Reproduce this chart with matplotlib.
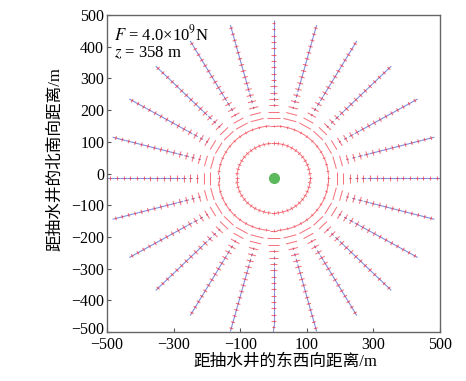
import numpy as np
import matplotlib
matplotlib.use('Agg')
import matplotlib.pyplot as plt
from matplotlib.collections import LineCollection
from matplotlib.transforms import ScaledTranslation

plt.rcParams['font.family'] = ['Liberation Serif', 'Noto Sans CJK SC']
plt.rcParams['mathtext.fontset'] = 'stix'

# 抽水井位置
well_x, well_y = 0, -15

# 射线方向 (度)
ray_angles = [0, 15, 30, 45, 60, 75, 90, 105, 120, 135, 150, 165,
              180, 195, 210, 225, 240, 255, 270, 285, 300, 315, 330, 345]
# 射线上的点半径及对应的切向(红)、径向(蓝)线段长度
ray_r = [190, 210, 230, 250, 270, 290, 310, 330, 350, 370, 390, 410, 430, 450, 470, 490]
red_len = [40, 34, 29, 25, 22, 20, 18, 17, 16, 15, 14, 14, 13, 13, 12, 12]
blue_len = [0, 0, 6, 10, 14, 17, 20, 20, 20, 20, 20, 20, 20, 20, 20, 20]

# 近井两个圆环
ring_r = [110, 165]
ring_tick = [12, 9]
ring_step = [7.5, 7.5]

red_c = '#f03a48'
blue_c = '#5566d4'

fig = plt.figure(figsize=(4.66, 3.81), dpi=100)
ax = fig.add_axes([107/466, 1-332/381, 333/466, 317/381])

red_segs, blue_segs, tick_segs = [], [], []
for a in ray_angles:
    t = np.deg2rad(a)
    ur = np.array([np.cos(t), np.sin(t)])
    ut = np.array([-np.sin(t), np.cos(t)])
    for r, lt, lr in zip(ray_r, red_len, blue_len):
        p = np.array([well_x, well_y]) + r * ur
        red_segs.append([p - ut * lt / 2, p + ut * lt / 2])
        if lr > 0:
            blue_segs.append([p - ur * lr / 2, p + ur * lr / 2])
            tick_segs.append([p - ur * 3, p + ur * 3])

for r, tk, st in zip(ring_r, ring_tick, ring_step):
    for a in np.arange(0, 360, st):
        t = np.deg2rad(a)
        ur = np.array([np.cos(t), np.sin(t)])
        ut = np.array([-np.sin(t), np.cos(t)])
        p = np.array([well_x, well_y]) + r * ur
        arc = r * np.deg2rad(st)
        red_segs.append([p - ut * arc / 2, p + ut * arc / 2])
        tick_segs.append([p - ur * tk / 2, p + ur * tk / 2])

ax.add_collection(LineCollection(blue_segs, colors=blue_c, linewidths=0.8, alpha=0.75))
ax.add_collection(LineCollection(red_segs, colors=red_c, linewidths=0.75, alpha=0.7))
ax.add_collection(LineCollection(tick_segs, colors=red_c, linewidths=0.6, alpha=0.7))

ax.plot(well_x, well_y, 'o', color='#5cb85c', markersize=7, zorder=5)

ax.set_xlim(-500, 500)
ax.set_ylim(-500, 500)
ax.set_xticks([-500, -300, -100, 100, 300, 500])
ax.set_yticks(np.arange(-500, 501, 100))
ax.tick_params(direction='in', length=3, labelsize=11.5, color='#555555', pad=2)
ax.tick_params(axis='x', pad=3.5)
ax.set_xticklabels(['\u2212500', '\u2212300', '\u2212100', '100', '300', '500'])
ax.set_yticklabels(['\u2212500', '\u2212400', '\u2212300', '\u2212200', '\u2212100',
                    '0', '100', '200', '300', '400', '500'])
for s in ax.spines.values():
    s.set_color('#666666')
    s.set_linewidth(1.0)

# 左下角两个 -500 稍微错开
lab = ax.get_yticklabels()[0]
lab.set_transform(lab.get_transform() + ScaledTranslation(0, 3 / 72, fig.dpi_scale_trans))

ax.set_xlabel('距抽水井的东西向距离/m', fontsize=12)
ax.set_ylabel('距抽水井的北南向距离/m', fontsize=12)
ax.xaxis.set_label_coords(0.535, -0.07)
ax.yaxis.set_label_coords(-0.132, 0.546)

ax.text(0.02, 0.97, r'$F$ = 4.0×10$^9$N', transform=ax.transAxes,
        fontsize=12, va='top', ha='left')
ax.text(0.02, 0.905, r'$z$ = 358 m', transform=ax.transAxes,
        fontsize=12, va='top', ha='left')

fig.savefig('out.png', dpi=100)
